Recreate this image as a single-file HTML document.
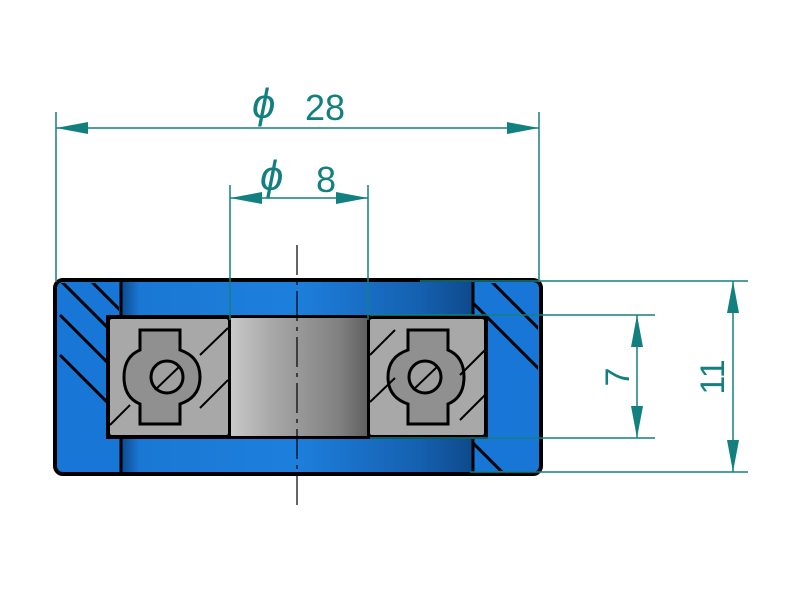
<!DOCTYPE html>
<html><head><style>body{margin:0;background:#fff}svg{display:block}</style></head><body>
<svg width="800" height="600" viewBox="0 0 800 600" xmlns="http://www.w3.org/2000/svg">
<defs>
<linearGradient id="bl" x1="0" x2="1" y1="0" y2="0">
<stop offset="0" stop-color="#0d4a90"/><stop offset="0.05" stop-color="#1a78d4"/><stop offset="0.5" stop-color="#1d7fdc"/><stop offset="0.85" stop-color="#1560b0"/><stop offset="1" stop-color="#0e4a8c"/></linearGradient>
<linearGradient id="sh" x1="0" x2="1" y1="0" y2="0">
<stop offset="0" stop-color="#c8c8c8"/><stop offset="0.3" stop-color="#a8a8a8"/><stop offset="0.8" stop-color="#808080"/><stop offset="1" stop-color="#606060"/></linearGradient>
<clipPath id="cl"><rect x="57" y="283" width="62" height="188"/></clipPath>
<clipPath id="cr"><rect x="474" y="283" width="64" height="188"/></clipPath>
</defs>
<rect x="55" y="280" width="486" height="194" rx="8" fill="#1876d6" stroke="#000" stroke-width="4"/>
<rect x="122" y="282" width="350" height="190" fill="url(#bl)"/>
<line x1="121" y1="280" x2="121" y2="474" stroke="#000" stroke-width="3"/>
<line x1="473" y1="280" x2="473" y2="474" stroke="#000" stroke-width="3"/>
<g clip-path="url(#cl)" stroke="#000" stroke-width="3">
<line x1="60" y1="280" x2="130" y2="350"/><line x1="60" y1="315" x2="130" y2="385"/><line x1="60" y1="355" x2="130" y2="425"/><line x1="90" y1="280" x2="130" y2="320"/>
</g>
<g clip-path="url(#cr)" stroke="#000" stroke-width="3">
<line x1="490" y1="280" x2="545" y2="335"/><line x1="470" y1="300" x2="545" y2="375"/><line x1="470" y1="440" x2="510" y2="480"/><line x1="470" y1="470" x2="480" y2="480"/>
</g>
<rect x="106" y="315" width="382" height="124" fill="#000"/>
<rect x="231" y="318" width="136" height="118" fill="url(#sh)"/>
<g fill="#a8a8a8" stroke="#000" stroke-width="2">
<rect x="109" y="318" width="120" height="118" rx="3"/>
<rect x="369" y="318" width="116" height="118" rx="3"/>
</g>
<g fill="#909090" stroke="#000" stroke-width="3">
<path d="M140 330h40v20c15 5 20 15 20 27s-5 22-20 27v20h-40v-20c-12-5-16-15-16-27s4-22 16-27z"/>
<path d="M408 330h40v20c12 5 16 15 16 27s-4 22-16 27v20h-40v-20c-15-5-20-15-20-27s5-22 20-27z"/>
<circle cx="167" cy="377" r="16" fill="#a0a0a0"/><circle cx="425" cy="377" r="16" fill="#a0a0a0"/>
</g>
<g stroke="#000" stroke-width="2"><line x1="155" y1="390" x2="180" y2="366"/><line x1="413" y1="390" x2="438" y2="366"/>
<line x1="110" y1="425" x2="130" y2="405"/><line x1="200" y1="355" x2="228" y2="328"/><line x1="200" y1="408" x2="228" y2="380"/>
<line x1="370" y1="355" x2="395" y2="330"/><line x1="370" y1="402" x2="395" y2="378"/><line x1="460" y1="420" x2="485" y2="395"/><line x1="460" y1="375" x2="485" y2="350"/></g>
<line x1="297" y1="245" x2="297" y2="505" stroke="#000" stroke-width="1.2" stroke-dasharray="30 6 4 6"/>
<g stroke="#138080" stroke-width="1.5" fill="none">
<line x1="56" y1="112" x2="56" y2="282"/><line x1="539" y1="112" x2="539" y2="282"/><line x1="56" y1="128" x2="539" y2="128"/>
<line x1="230" y1="185" x2="230" y2="320"/><line x1="368" y1="185" x2="368" y2="320"/><line x1="230" y1="198" x2="368" y2="198"/>
<line x1="420" y1="281" x2="748" y2="281"/><line x1="470" y1="472" x2="748" y2="472"/><line x1="733" y1="281" x2="733" y2="472"/>
<line x1="370" y1="315" x2="655" y2="315"/><line x1="370" y1="438" x2="655" y2="438"/><line x1="637" y1="315" x2="637" y2="438"/>
</g>
<g fill="#138080">
<path d="M56 128l32-6v12z"/><path d="M539 128l-32-6v12z"/>
<path d="M230 198l32-6v12z"/><path d="M368 198l-32-6v12z"/>
<path d="M733 281l-6 32h12z"/><path d="M733 472l-6-32h12z"/>
<path d="M637 315l-6 32h12z"/><path d="M637 438l-6-32h12z"/>
</g>
<g fill="#138080" font-family="Liberation Sans, sans-serif">
<text x="252" y="118" font-size="42" font-style="italic">ϕ</text><text x="305" y="120" font-size="36">28</text>
<text x="260" y="190" font-size="42" font-style="italic">ϕ</text><text x="316" y="192" font-size="36">8</text>
<text transform="translate(724,377) rotate(-90)" text-anchor="middle" font-size="34">11</text>
<text transform="translate(629,377) rotate(-90)" text-anchor="middle" font-size="34">7</text>
</g>
</svg>
</body></html>
